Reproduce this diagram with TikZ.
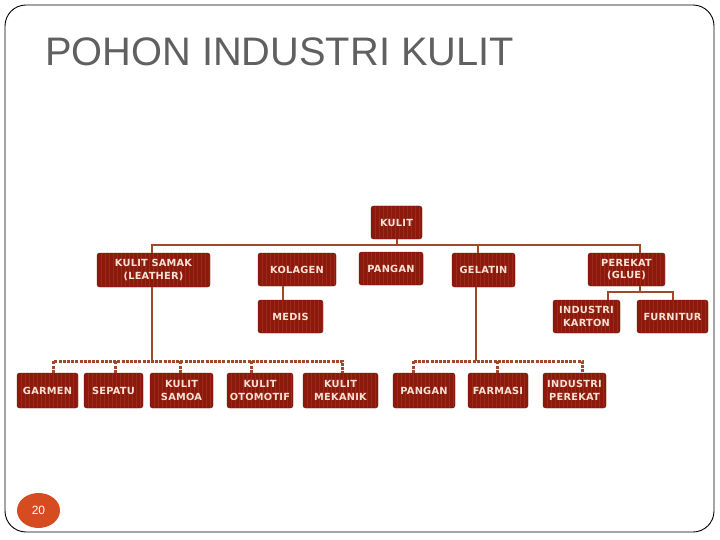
\documentclass[tikz,border=0pt]{standalone}
\usepackage{fontspec}
\setmainfont{Liberation Sans}
\newfontfamily\boxfont[LetterSpace=2.5]{DejaVu Sans}
\usetikzlibrary{shapes.geometric}

\definecolor{boxred}{RGB}{140,26,12}
\definecolor{boxstripe}{RGB}{156,42,26}
\definecolor{boxedge}{RGB}{112,18,8}
\definecolor{boxtext}{RGB}{250,225,212}
\definecolor{linebrown}{RGB}{162,72,42}
\definecolor{titlegray}{RGB}{96,96,96}
\definecolor{numorange}{RGB}{214,76,32}

\tikzset{
  orgbox/.style={draw=boxedge, fill=boxred, rounded corners=2.5pt, text=boxtext,
    font=\boxfont\bfseries\fontsize{9.8}{12.5}\selectfont, align=center, inner sep=1pt,
    path picture={
      \foreach \k in {1,...,30}
        \draw[boxstripe, line width=0.9pt]
          ([xshift=\k*4pt]path picture bounding box.south west) --
          ([xshift=\k*4pt]path picture bounding box.north west);
    }},
  conn/.style={draw=linebrown, line width=2pt},
  dotconn/.style={draw=linebrown, line width=3pt, dash pattern=on 3pt off 1.2pt},
}

\begin{document}
\begin{tikzpicture}[x=1pt,y=-1pt]
    \pgfmathsetmacro{\toph}{33}
    \pgfmathsetmacro{\both}{35}
    \useasboundingbox (0,0) rectangle (720,540);
    \draw[line width=0.9pt, rounded corners=21pt] (5,5) rectangle (714,532);
    \node[anchor=base west, text=titlegray, inner sep=0, font=\fontsize{39.8}{42}\selectfont] (judul) at (45,66) {POHON INDUSTRI KULIT};
    % level 0 and 1
    \node[orgbox, minimum width=51, minimum height=\toph] (kulit) at (396.5,222.5) {KULIT};
    \node[orgbox, minimum width=113, minimum height=34] (samak) at (153.5,270) {KULIT SAMAK\\(LEATHER)};
    \node[orgbox, minimum width=78, minimum height=\toph] (kolagen) at (297,269.5) {KOLAGEN};
    \node[orgbox, minimum width=64, minimum height=\toph] (pangan) at (391,268.5) {PANGAN};
    \node[orgbox, minimum width=63, minimum height=34] (gelatin) at (483.5,270) {GELATIN};
    \node[orgbox, minimum width=77, minimum height=\toph] (perekat) at (626.5,269.5) {PEREKAT\\(GLUE)};
    % level 2
    \node[orgbox, minimum width=65, minimum height=\toph] (medis) at (290.5,316.5) {MEDIS};
    \node[orgbox, minimum width=67, minimum height=\toph] (karton) at (586.5,316.5) {INDUSTRI\\KARTON};
    \node[orgbox, minimum width=71, minimum height=\toph] (furnitur) at (672.5,316.5) {FURNITUR};
    % level 3
    \node[orgbox, minimum width=61, minimum height=\both] (garmen) at (47.5,390.5) {GARMEN};
    \node[orgbox, minimum width=59, minimum height=\both] (sepatu) at (113.5,390.5) {SEPATU};
    \node[orgbox, minimum width=63, minimum height=\both] (samoa) at (181.5,390.5) {KULIT\\SAMOA};
    \node[orgbox, minimum width=66, minimum height=\both] (otomotif) at (260,390.5) {KULIT\\OTOMOTIF};
    \node[orgbox, minimum width=75, minimum height=\both] (mekanik) at (340.5,390.5) {KULIT\\MEKANIK};
    \node[orgbox, minimum width=62, minimum height=\both] (panganb) at (424,390.5) {PANGAN};
    \node[orgbox, minimum width=60, minimum height=\both] (farmasi) at (498,390.5) {FARMASI};
    \node[orgbox, minimum width=63, minimum height=\both] (indperekat) at (574.5,390.5) {INDUSTRI\\PEREKAT};
    % connectors
    \coordinate (topbus) at (0,245);
    \coordinate (rbus) at (0,292);
    \coordinate (lowbus) at (0,361);
    \draw[conn] (kulit.south) -- (kulit.south |- topbus);
    \draw[conn] ([xshift=-2pt]samak.north) -- ([xshift=-2pt]samak.north |- topbus) -| ([xshift=13pt]perekat.north);
    \draw[conn] ([xshift=-6pt]gelatin.north) -- ([xshift=-6pt]gelatin.north |- topbus);
    \draw[conn] ([xshift=-7.5pt]medis.north) -- ([xshift=-7.5pt]medis.north |- kolagen.south);
    \draw[conn] ([xshift=13pt]perekat.south) -- ([xshift=13pt]perekat.south |- rbus);
    \draw[conn] ([xshift=21.5pt]karton.north) |- (rbus -| furnitur.north) -- (furnitur.north);
    \draw[conn] ([xshift=-2pt]samak.south) -- ([xshift=-2pt]samak.south |- lowbus);
    \draw[conn] ([xshift=-8pt]gelatin.south) -- ([xshift=-8pt]gelatin.south |- lowbus);
    \draw[dotconn] ([xshift=6pt]garmen.north) |- ([xshift=2pt]mekanik.north |- lowbus) -- ([xshift=2pt]mekanik.north);
    \foreach \n/\s in {sepatu/1.5,samoa/-1,otomotif/-9}
      \draw[dotconn] ([xshift=\s pt]\n.north) -- ([xshift=\s pt]\n.north |- lowbus);
    \draw[dotconn] ([xshift=-11pt]panganb.north) |- ([xshift=7.5pt]indperekat.north |- lowbus) -- ([xshift=7.5pt]indperekat.north);
    \draw[dotconn] ([xshift=-1pt]farmasi.north) -- ([xshift=-1pt]farmasi.north |- lowbus);
    % page number
    \node[ellipse, fill=numorange, text=white, minimum width=43, minimum height=35, inner sep=0, font=\fontsize{12}{14}\selectfont] (hal) at (38.5,510.5) {20};
\end{tikzpicture}
\end{document}
